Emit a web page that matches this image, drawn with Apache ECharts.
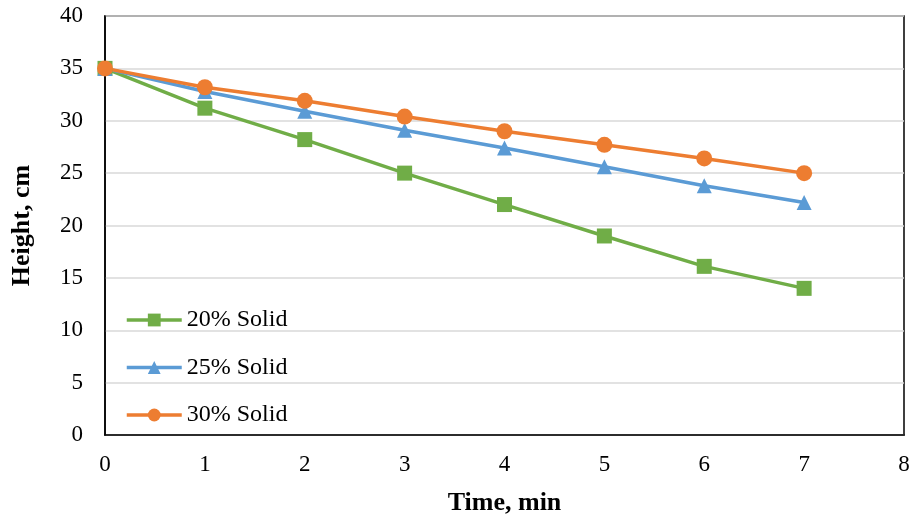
<!DOCTYPE html>
<html>
<head>
<meta charset="utf-8">
<script src="https://cdn.jsdelivr.net/npm/echarts@6/dist/echarts.min.js"></script>
<style>
html,body{margin:0;padding:0;background:#fff;}
#chart{width:910px;height:517px;}
</style>
</head>
<body>
<div id="chart"></div>
<script>
const times = [0, 1, 2, 3, 4, 5, 6, 7];
const solid20 = [35, 31.2, 28.2, 25.0, 22.0, 19.0, 16.1, 14.0];
const solid25 = [35, 32.8, 30.9, 29.1, 27.4, 25.6, 23.8, 22.2];
const solid30 = [35, 33.2, 31.9, 30.4, 29.0, 27.7, 26.4, 25.0];
const seriesNames = ['20% Solid', '25% Solid', '30% Solid'];
const xTitle = 'Time, min';
const yTitle = 'Height, cm';

const pairs = vals => times.map((t, i) => [t, vals[i]]);
const font = 'Liberation Serif, Times New Roman, serif';

const chart = echarts.init(document.getElementById('chart'), null, {renderer: 'canvas'});
chart.setOption({
  animation: false,
  backgroundColor: '#fff',
  textStyle: {fontFamily: font},
  grid: {left: 105, right: 6, top: 16, bottom: 82, containLabel: false, outerBoundsMode: 'none',
         show: true, borderColor: '#000', borderWidth: 1.5, backgroundColor: 'transparent'},
  legend: {
    orient: 'vertical', left: 120, top: 303, itemGap: 23.5,
    itemWidth: 55, itemHeight: 16,
    lineStyle: {width: 3.5},
    textStyle: {fontFamily: font, fontSize: 24, color: '#000'},
    data: seriesNames
  },
  xAxis: {
    type: 'value', min: 0, max: 8, interval: 1,
    name: xTitle, nameLocation: 'middle', nameGap: 55,
    nameTextStyle: {fontFamily: font, fontSize: 26, fontWeight: 'bold', color: '#000'},
    axisLine: {show: true, lineStyle: {color: '#000', width: 1.5}}, axisTick: {show: false},
    axisLabel: {fontFamily: font, fontSize: 23, color: '#000', margin: 18},
    splitLine: {show: false}
  },
  yAxis: {
    type: 'value', min: 0, max: 40, interval: 5,
    name: yTitle, nameLocation: 'middle', nameGap: 70, nameRotate: 90,
    nameTextStyle: {fontFamily: font, fontSize: 26, fontWeight: 'bold', color: '#000'},
    axisLine: {show: true, lineStyle: {color: '#000', width: 1.5}}, axisTick: {show: false},
    axisLabel: {fontFamily: font, fontSize: 23, color: '#000', margin: 22},
    splitLine: {show: true, lineStyle: {color: '#D9D9D9', width: 1.5}}
  },
  series: [
    {name: seriesNames[0], type: 'line', data: pairs(solid20), symbol: 'rect', symbolSize: 15,
     color: '#70AD47', lineStyle: {width: 3.5, color: '#70AD47'}, itemStyle: {color: '#70AD47'}},
    {name: seriesNames[1], type: 'line', data: pairs(solid25), symbol: 'triangle', symbolSize: 15,
     color: '#5B9BD5', lineStyle: {width: 3.5, color: '#5B9BD5'}, itemStyle: {color: '#5B9BD5'}},
    {name: seriesNames[2], type: 'line', data: pairs(solid30), symbol: 'circle', symbolSize: 16,
     color: '#ED7D31', lineStyle: {width: 3.5, color: '#ED7D31'}, itemStyle: {color: '#ED7D31'}}
  ]
});
</script>
</body>
</html>
